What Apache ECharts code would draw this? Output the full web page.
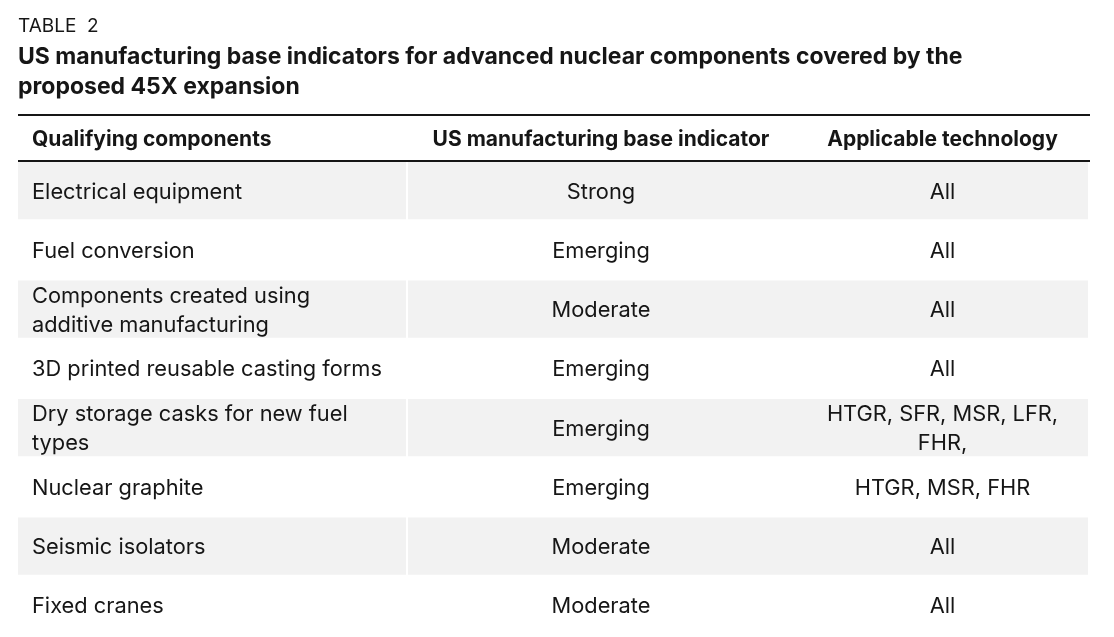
<!DOCTYPE html>
<html>
<head>
<meta charset="utf-8">
<title>Table 2</title>
<script src="https://cdn.jsdelivr.net/npm/echarts@6/dist/echarts.min.js"></script>
<style>
  html, body { margin: 0; padding: 0; background: #fff; }
  #chart { width: 1114px; height: 637px; }
</style>
</head>
<body>
<div id="chart"></div>
<script>
// table content
var headers = ['Qualifying components', 'US manufacturing base indicator', 'Applicable technology'];
var components = [
    'Electrical equipment',
    'Fuel conversion',
    'Components created using\nadditive manufacturing',
    '3D printed reusable casting forms',
    'Dry storage casks for new fuel\ntypes',
    'Nuclear graphite',
    'Seismic isolators',
    'Fixed cranes'
];
var indicators = ['Strong', 'Emerging', 'Moderate', 'Emerging', 'Emerging', 'Emerging', 'Moderate', 'Moderate'];
var technologies = ['All', 'All', 'All', 'All', 'HTGR, SFR, MSR, LFR,\nFHR,', 'HTGR, MSR, FHR', 'All', 'All'];

var columns = [components, indicators, technologies];
var colEdges = [0, 389, 777, 1072];   // column borders in table units
var font = 'Inter, "Noto Sans", sans-serif';
var ink = '#161616';

var cells = [];
for (var r = 0; r < components.length; r++) {
    for (var c = 0; c < columns.length; c++) {
        cells.push([c, r]);
    }
}

var myChart = echarts.init(document.getElementById('chart'));

function renderCell(params, api) {
    var col = api.value(0);
    var row = api.value(1);
    var a = api.coord([colEdges[col], row]);
    var b = api.coord([colEdges[col + 1], row]);
    var h = api.size([0, 1])[1];
    var children = [];
    // every other row is shaded, with a thin white gap after the first column
    if (row % 2 === 0) {
        var x0 = a[0] + (col === 1 ? 1 : 0);
        var x1 = b[0] - (col === 0 ? 1 : (col === 2 ? 2 : 0));
        children.push({
            type: 'rect',
            shape: { x: x0, y: a[1] - h / 2 + 1, width: x1 - x0, height: h - 2 },
            style: { fill: '#f2f2f2' }
        });
    }
    children.push({
        type: 'text',
        style: {
            x: col === 0 ? a[0] + 14 : (a[0] + b[0]) / 2,
            y: a[1] + 1.5,
            text: columns[col][row],
            align: col === 0 ? 'left' : 'center',
            verticalAlign: 'middle',
            fontFamily: font,
            fontSize: 21.8,
            lineHeight: 29,
            fill: ink
        }
    });
    return { type: 'group', children: children };
}

var headerGraphics = [
    { type: 'line', shape: { x1: 18, y1: 115, x2: 1090, y2: 115 }, style: { stroke: ink, lineWidth: 2 } },
    { type: 'line', shape: { x1: 18, y1: 161, x2: 1090, y2: 161 }, style: { stroke: ink, lineWidth: 2 } }
];
headers.forEach(function (h, i) {
    headerGraphics.push({
        type: 'text',
        style: {
            x: i === 0 ? 18 + colEdges[0] + 14 : 18 + (colEdges[i] + colEdges[i + 1]) / 2,
            y: 140,
            text: h,
            align: i === 0 ? 'left' : 'center',
            verticalAlign: 'middle',
            fontFamily: font,
            fontSize: 21,
            fontWeight: 'bold',
            fill: ink
        }
    });
});

myChart.setOption({
    animation: false,
    title: [{
        text: 'TABLE  2',
        left: 18,
        top: 15,
        padding: 0,
        textStyle: { fontFamily: font, fontSize: 19, fontWeight: 'normal', color: ink, lineHeight: 22 }
    }, {
        text: 'US manufacturing base indicators for advanced nuclear components covered by the\nproposed 45X expansion',
        left: 18,
        top: 42,
        padding: 0,
        textStyle: { fontFamily: font, fontSize: 23, fontWeight: 'bold', color: ink, lineHeight: 30 }
    }],
    grid: { left: 18, right: 24, top: 161, bottom: 2 },
    xAxis: { type: 'value', min: 0, max: colEdges[colEdges.length - 1], show: false },
    yAxis: { type: 'category', data: components, inverse: true, show: false },
    graphic: headerGraphics,
    series: [{
        type: 'custom',
        renderItem: renderCell,
        data: cells,
        clip: false,
        silent: true
    }]
});
</script>
</body>
</html>
